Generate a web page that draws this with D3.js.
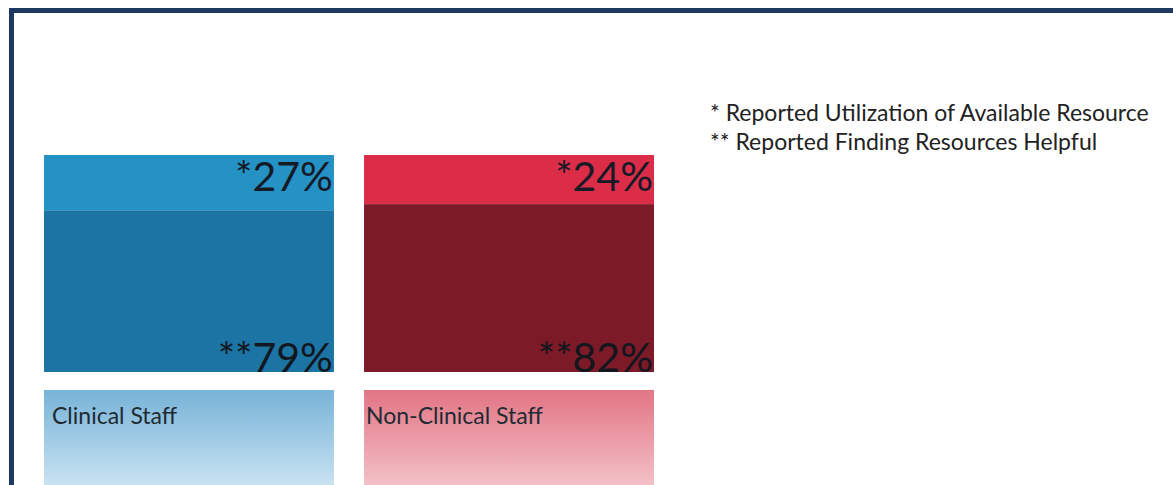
<!DOCTYPE html>
<html>
<head>
<meta charset="utf-8">
<script src="https://cdn.jsdelivr.net/npm/d3@7"></script>
<style>
  body { margin: 0; background: #fff; }
  svg { display: block; }
</style>
</head>
<body>
<div id="chart"></div>
<script>
const categories = ['Clinical Staff', 'Non-Clinical Staff'];
const helpful = [79, 82];      // ** Reported Finding Resources Helpful
const utilization = [27, 24];  // * Reported Utilization of Available Resource
const legendLines = ['* Reported Utilization of Available Resource', '** Reported Finding Resources Helpful'];

const lightColors = ['#2592c6', '#db2d47'];
const darkColors = ['#1b74a3', '#7c1a27'];
const boxTop = ['#77b3d8', '#e27584'];
const boxBottom = ['#c8e2f1', '#f3c0c7'];

const width = 1173, height = 485;

const svg = d3.select('#chart').append('svg')
    .attr('width', width)
    .attr('height', height);

// frame (only top and left visible)
svg.append('path')
    .attr('d', `M11.5,${height + 10} V10.5 H${width + 10}`)
    .attr('fill', 'none')
    .attr('stroke', '#1d3961')
    .attr('stroke-width', 5);

// scales
const x = d3.scaleBand()
    .domain(categories)
    .range([44, 654])
    .paddingInner(0.094)
    .paddingOuter(0);

const y = d3.scaleLinear()
    .domain([0, 106])
    .range([372, 155]);

const rows = categories.map((c, i) => ({
  cat: c, helpful: helpful[i], util: utilization[i], i: i
}));

const defs = svg.append('defs');
rows.forEach(d => {
  const g = defs.append('linearGradient')
      .attr('id', 'grad' + d.i)
      .attr('x1', 0).attr('y1', 0).attr('x2', 0).attr('y2', 1);
  g.append('stop').attr('offset', '0%').attr('stop-color', boxTop[d.i]);
  g.append('stop').attr('offset', '100%').attr('stop-color', boxBottom[d.i]);
});

const bars = svg.selectAll('.bar')
    .data(rows)
    .enter()
    .append('g')
    .attr('class', 'bar');

// light segment: utilization stacked on top of helpful
bars.append('rect')
    .attr('x', d => x(d.cat))
    .attr('width', x.bandwidth())
    .attr('y', d => y(d.helpful + d.util))
    .attr('height', d => y(d.helpful) - y(d.helpful + d.util))
    .attr('fill', d => lightColors[d.i]);

// dark segment
bars.append('rect')
    .attr('x', d => x(d.cat))
    .attr('width', x.bandwidth())
    .attr('y', d => y(d.helpful))
    .attr('height', d => y(0) - y(d.helpful))
    .attr('fill', d => darkColors[d.i]);

// value labels
bars.append('text')
    .attr('x', d => x(d.cat) + x.bandwidth() - 1)
    .attr('y', d => y(d.helpful + d.util) + 36)
    .attr('text-anchor', 'end')
    .attr('font-family', 'Lato, sans-serif')
    .attr('font-size', 41)
    .attr('fill', '#161a26')
    .text(d => '*' + d.util + '%');

bars.append('text')
    .attr('x', d => x(d.cat) + x.bandwidth() - 1)
    .attr('y', y(0) - 0.5)
    .attr('text-anchor', 'end')
    .attr('font-family', 'Lato, sans-serif')
    .attr('font-size', 41)
    .attr('fill', '#12161e')
    .text(d => '**' + d.helpful + '%');

// category boxes
bars.append('rect')
    .attr('x', d => x(d.cat))
    .attr('width', x.bandwidth())
    .attr('y', 390)
    .attr('height', height - 390)
    .attr('fill', d => `url(#grad${d.i})`);

bars.append('text')
    .attr('x', d => x(d.cat) + (d.i === 0 ? 8 : 2))
    .attr('y', 424)
    .attr('font-family', 'Lato, sans-serif')
    .attr('font-size', 23)
    .attr('fill', '#1f2a33')
    .text(d => d.cat);

// legend
svg.selectAll('.legend')
    .data(legendLines)
    .enter()
    .append('text')
    .attr('class', 'legend')
    .attr('x', 710)
    .attr('y', (d, i) => 121 + i * 29)
    .attr('font-family', 'Lato, sans-serif')
    .attr('font-size', 23)
    .attr('fill', '#222')
    .text(d => d);
</script>
</body>
</html>
